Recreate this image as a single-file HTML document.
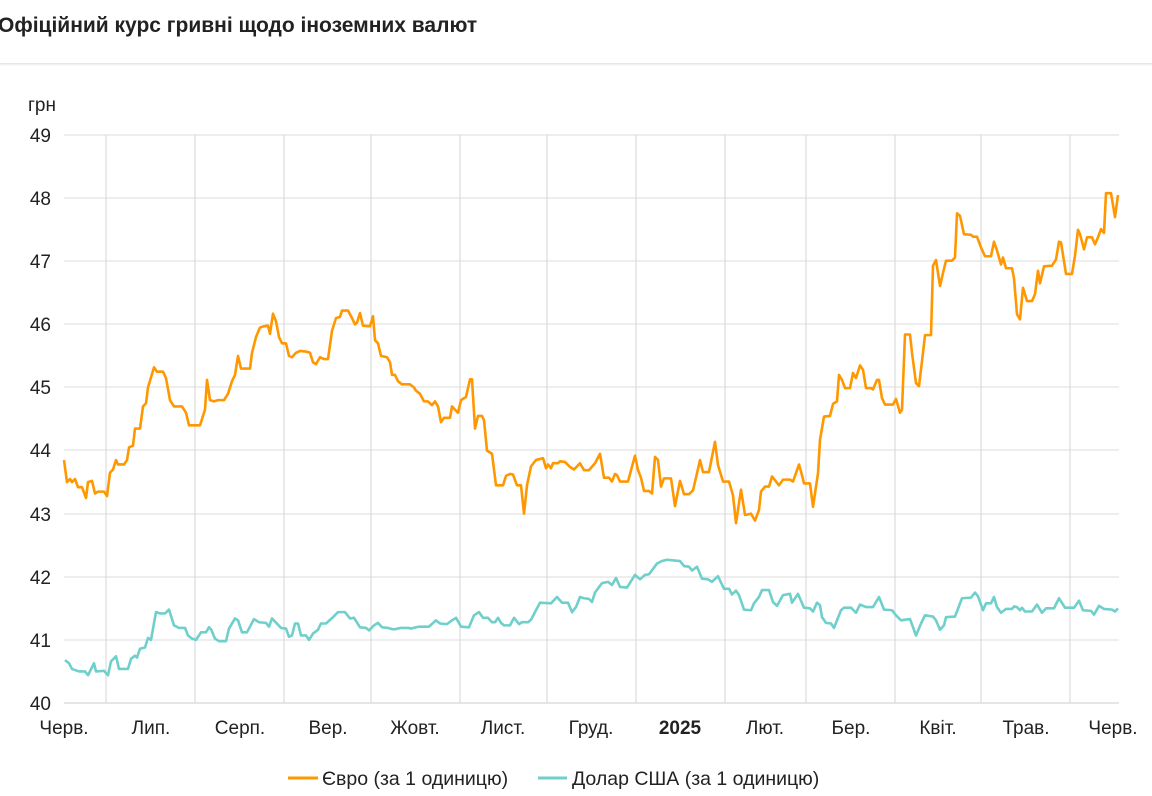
<!DOCTYPE html>
<html><head><meta charset="utf-8"><style>
body{margin:0;width:1152px;height:796px;background:#fff;overflow:hidden;font-family:"Liberation Sans",sans-serif;}
.t{position:absolute;left:-2px;top:14px;font-size:21px;font-weight:bold;color:#222;}
.bar{position:absolute;left:0;top:63px;width:1152px;height:3px;background:linear-gradient(#e2e2e2,#fff);}
</style></head><body>
<div class="t">Офіційний курс гривні щодо іноземних валют</div>
<div class="bar"></div>
<svg width="1152" height="796" style="position:absolute;left:0;top:0">
<g stroke="#ddd" stroke-width="1">
<line x1="64" x2="1119" y1="135" y2="135"/><line x1="64" x2="1119" y1="198" y2="198"/><line x1="64" x2="1119" y1="261" y2="261"/><line x1="64" x2="1119" y1="324" y2="324"/><line x1="64" x2="1119" y1="387" y2="387"/><line x1="64" x2="1119" y1="450" y2="450"/><line x1="64" x2="1119" y1="514" y2="514"/><line x1="64" x2="1119" y1="577" y2="577"/><line x1="64" x2="1119" y1="640" y2="640"/><line x1="64" x2="1119" y1="703" y2="703" stroke="#ccc"/>
</g>
<g stroke="#d6d6d6" stroke-width="1">
<line x1="106" x2="106" y1="135" y2="703"/><line x1="195" x2="195" y1="135" y2="703"/><line x1="284" x2="284" y1="135" y2="703"/><line x1="371" x2="371" y1="135" y2="703"/><line x1="460" x2="460" y1="135" y2="703"/><line x1="547" x2="547" y1="135" y2="703"/><line x1="636" x2="636" y1="135" y2="703"/><line x1="725" x2="725" y1="135" y2="703"/><line x1="806" x2="806" y1="135" y2="703"/><line x1="895" x2="895" y1="135" y2="703"/><line x1="981" x2="981" y1="135" y2="703"/><line x1="1070" x2="1070" y1="135" y2="703"/>
</g>
<g font-size="19" fill="#222" text-anchor="end">
<text x="51" y="142">49</text><text x="51" y="205">48</text><text x="51" y="268">47</text><text x="51" y="331">46</text><text x="51" y="394">45</text><text x="51" y="457">44</text><text x="51" y="521">43</text><text x="51" y="584">42</text><text x="51" y="647">41</text><text x="51" y="710">40</text>
</g>
<text x="28" y="111" font-size="19" fill="#222">грн</text>
<g font-size="19" fill="#222" text-anchor="middle">
<text x="64" y="734">Черв.</text><text x="151" y="734">Лип.</text><text x="240" y="734">Серп.</text><text x="328" y="734">Вер.</text><text x="415" y="734">Жовт.</text><text x="503" y="734">Лист.</text><text x="591" y="734">Груд.</text><text x="680" y="734" font-weight="bold">2025</text><text x="765" y="734">Лют.</text><text x="851" y="734">Бер.</text><text x="938" y="734">Квіт.</text><text x="1026" y="734">Трав.</text><text x="1113" y="734">Черв.</text>
</g>
<g transform="translate(0,3227) scale(1,-63.1)" fill="none" stroke-linejoin="round">
<polyline vector-effect="non-scaling-stroke" stroke="#ff9800" stroke-width="2.6" points="64,43.85 67,43.5 70,43.55 72,43.5 75,43.55 78,43.42 82,43.42 86,43.25 88,43.5 92,43.52 95,43.32 98,43.35 104,43.35 107,43.28 110,43.65 113,43.7 116,43.85 118,43.78 124,43.78 127,43.85 129,44.05 133,44.08 135,44.35 140,44.35 143,44.7 146,44.75 148,45.0 154,45.32 157,45.25 163,45.25 166,45.15 170,44.8 174,44.7 182,44.7 186,44.6 189,44.4 200,44.4 205,44.65 207,45.12 210,44.8 214,44.78 218,44.8 224,44.8 228,44.9 232,45.1 235,45.2 238,45.5 241,45.3 250,45.3 252,45.55 256,45.8 260,45.95 264,45.97 268,45.98 270,45.85 273,46.17 276,46.05 279,45.8 282,45.7 286,45.7 289,45.5 292,45.48 296,45.55 300,45.58 306,45.57 310,45.55 313,45.4 316,45.37 320,45.48 324,45.45 328,45.45 332,45.9 336,46.1 340,46.12 342,46.22 348,46.22 352,46.1 355,46.0 357,46.03 360,46.18 363,45.98 370,45.97 373,46.13 375,45.75 378,45.7 381,45.5 387,45.48 390,45.4 392,45.2 395,45.2 398,45.1 402,45.05 410,45.05 414,45.0 416,44.95 420,44.9 424,44.78 428,44.78 432,44.72 435,44.78 438,44.7 441,44.45 444,44.52 450,44.52 452,44.7 455,44.65 458,44.6 461,44.8 466,44.85 470,45.13 472,45.13 475,44.35 478,44.55 482,44.55 484,44.48 487,44.0 492,43.95 496,43.45 503,43.45 506,43.6 510,43.63 513,43.62 517,43.45 521,43.45 524,43.0 527,43.45 531,43.75 536,43.85 543,43.88 546,43.72 548,43.78 551,43.72 553,43.8 558,43.8 560,43.83 565,43.82 570,43.74 574,43.7 580,43.80 584,43.69 589,43.69 595,43.80 600,43.95 604,43.57 609,43.57 612,43.51 615,43.63 617,43.61 620,43.51 628,43.51 635,43.92 638,43.69 641,43.57 644,43.36 649,43.36 652,43.32 655,43.9 658,43.85 661,43.43 664,43.56 671,43.56 675,43.12 680,43.52 684,43.31 689,43.31 693,43.37 697,43.64 700,43.85 703,43.66 709,43.66 715,44.14 718,43.77 723,43.51 729,43.51 733,43.29 736,42.85 741,43.38 745,42.98 751,43.0 755,42.89 759,43.06 761,43.35 765,43.43 769,43.43 772,43.59 779,43.45 783,43.54 790,43.54 793,43.51 799,43.78 802,43.61 804,43.48 810,43.48 813,43.11 818,43.64 820,44.17 824,44.54 830,44.55 833,44.74 837,44.78 839,45.2 842,45.12 845,44.99 850,44.99 853,45.23 856,45.15 860,45.35 863,45.28 866,44.99 871,44.99 873,44.97 877,45.12 879,45.12 882,44.83 885,44.73 893,44.73 896,44.82 900,44.6 902,44.65 905,45.84 910,45.84 912,45.55 916,45.07 919,45.02 923,45.55 925,45.83 931,45.83 933,46.93 936,47.02 940,46.61 944,46.88 946,47.01 952,47.01 955,47.06 957,47.76 960,47.72 964,47.43 971,47.42 973,47.39 977,47.39 981,47.22 985,47.08 991,47.08 994,47.31 997,47.17 1001,46.95 1003,47.06 1006,46.89 1012,46.89 1014,46.73 1017,46.16 1020,46.08 1023,46.58 1027,46.37 1032,46.37 1035,46.48 1038,46.85 1040,46.65 1044,46.92 1052,46.93 1056,47.03 1059,47.31 1061,47.3 1066,46.8 1072,46.8 1075,47.09 1078,47.5 1080,47.43 1084,47.19 1087,47.38 1092,47.38 1095,47.27 1098,47.38 1101,47.51 1104,47.45 1106,48.08 1111,48.08 1115,47.7 1118,48.05"/>
<polyline vector-effect="non-scaling-stroke" stroke="#6fcfcb" stroke-width="2.6" points="65,40.68 69,40.63 72,40.54 79,40.5 85,40.5 88,40.44 94,40.63 96,40.5 104,40.51 108,40.44 111,40.66 116,40.74 119,40.54 128,40.54 131,40.7 135,40.75 137,40.72 140,40.86 145,40.88 148,41.03 151,41.0 156,41.44 160,41.42 165,41.42 169,41.48 174,41.23 179,41.19 185,41.19 188,41.07 192,41.02 196,41.0 201,41.12 206,41.12 209,41.2 211,41.17 215,41.02 219,40.98 226,40.98 229,41.18 235,41.34 238,41.31 242,41.12 247,41.12 254,41.33 259,41.28 266,41.27 269,41.21 272,41.34 281,41.19 286,41.18 289,41.05 292,41.07 295,41.26 298,41.26 301,41.07 306,41.07 309,41.0 313,41.1 318,41.16 321,41.26 326,41.26 333,41.36 338,41.44 345,41.44 350,41.34 354,41.35 360,41.2 366,41.19 369,41.15 374,41.23 378,41.27 382,41.2 388,41.19 392,41.17 395,41.17 401,41.19 408,41.19 411,41.18 419,41.21 429,41.21 436,41.31 440,41.26 447,41.25 451,41.3 456,41.35 461,41.21 469,41.2 474,41.39 479,41.44 483,41.35 488,41.35 492,41.28 495,41.28 498,41.35 501,41.27 504,41.23 510,41.23 514,41.35 519,41.25 522,41.28 528,41.28 531,41.32 535,41.44 540,41.59 551,41.58 557,41.68 562,41.59 568,41.59 572,41.44 576,41.52 580,41.68 584,41.66 589,41.65 592,41.6 595,41.75 602,41.9 608,41.92 612,41.87 616,41.98 620,41.84 627,41.83 635,42.03 640,41.96 645,42.03 649,42.04 657,42.21 662,42.25 667,42.27 680,42.25 684,42.17 689,42.16 692,42.1 697,42.16 702,41.97 708,41.96 712,41.92 718,42.01 724,41.81 729,41.81 732,41.72 736,41.78 739,41.71 744,41.48 751,41.47 754,41.58 759,41.68 762,41.79 769,41.79 773,41.6 777,41.54 783,41.71 790,41.73 792,41.59 798,41.73 804,41.51 810,41.5 813,41.45 817,41.59 820,41.55 822,41.36 826,41.27 831,41.26 834,41.19 841,41.47 844,41.51 851,41.51 856,41.43 860,41.56 866,41.52 873,41.52 879,41.68 884,41.48 892,41.47 896,41.39 901,41.31 910,41.33 916,41.07 921,41.26 925,41.39 933,41.37 936,41.31 940,41.16 944,41.23 946,41.36 955,41.37 962,41.66 971,41.67 975,41.75 978,41.69 983,41.47 986,41.58 991,41.58 994,41.68 997,41.52 1001,41.43 1006,41.49 1012,41.49 1014,41.53 1017,41.52 1020,41.47 1022,41.51 1025,41.45 1032,41.45 1037,41.56 1042,41.43 1046,41.5 1054,41.5 1059,41.66 1065,41.51 1074,41.51 1079,41.62 1083,41.47 1091,41.46 1094,41.4 1099,41.54 1104,41.49 1112,41.48 1115,41.45 1118,41.5"/>
</g>
<line x1="288" x2="318" y1="778" y2="778" stroke="#ff9800" stroke-width="3"/>
<text x="322" y="785" font-size="19.5" fill="#222">Євро (за 1 одиницю)</text>
<line x1="538" x2="567" y1="778" y2="778" stroke="#6fcfcb" stroke-width="3"/>
<text x="572" y="785" font-size="19.5" fill="#222">Долар США (за 1 одиницю)</text>
</svg>
</body></html>
